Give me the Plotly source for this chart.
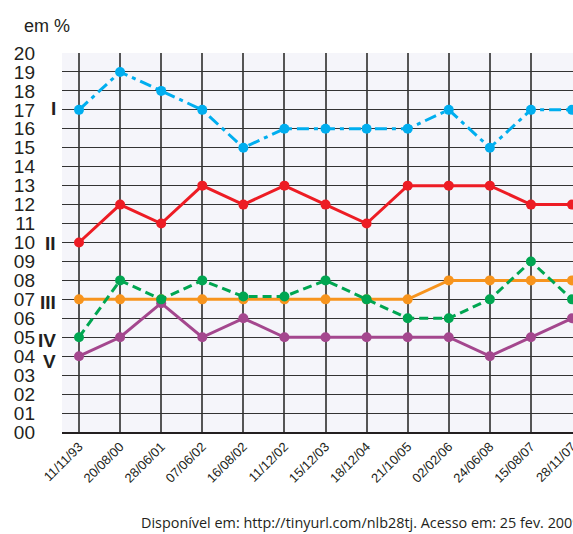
import plotly.graph_objects as go

dates = ["11/11/93", "20/08/00", "28/06/01", "07/06/02", "16/08/02", "11/12/02",
         "15/12/03", "18/12/04", "21/10/05", "02/02/06", "24/06/08", "15/08/07", "28/11/07"]
serie_I = [17, 19, 18, 17, 15, 16, 16, 16, 16, 17, 15, 17, 17]
serie_II = [10, 12, 11, 13, 12, 13, 12, 11, 13, 13, 13, 12, 12]
serie_III = [7, 7, 7, 7, 7, 7, 7, 7, 7, 8, 8, 8, 8]
serie_IV = [5, 8, 7, 8, 7.15, 7.15, 8, 7, 6, 6, 7, 9, 7]
serie_V = [4, 5, 6.8, 5, 6, 5, 5, 5, 5, 5, 4, 5, 6]
y_ticks = list(range(0, 21))
y_labels = [f"{v:02d}" for v in y_ticks]
roman = [("I", 17.05), ("II", 9.95), ("III", 6.85), ("IV", 4.85), ("V", 3.7)]

xs = list(range(len(dates)))
fig = go.Figure()

def add(vals, color, dash):
    fig.add_trace(go.Scatter(
        x=xs, y=vals, mode="lines+markers",
        line=dict(color=color, width=3, dash=dash),
        marker=dict(color=color, size=10),
        showlegend=False, hoverinfo="skip"))

add(serie_III, "#f7941d", "solid")
add(serie_V, "#a4478e", "solid")
add(serie_IV, "#00a651", "9px,5px")
add(serie_II, "#ed1c24", "solid")
add(serie_I, "#00aeef", "12px,5px,4px,5px")

font_family = "Liberation Sans, Arial, sans-serif"

fig.update_layout(
    width=573, height=534,
    margin=dict(l=62, r=0, t=53, b=102, autoexpand=False),
    paper_bgcolor="white", plot_bgcolor="#f5f5fa",
    font=dict(family=font_family, color="#231f20"),
    xaxis=dict(
        range=[-0.414, 12.024], automargin=False,
        tickvals=xs, ticktext=dates, tickangle=-45,
        tickfont=dict(size=13, color="#231f20"),
        ticklabeloverflow="allow",
        showgrid=True, gridcolor="#555555", gridwidth=1.5,
        showline=True, linecolor="#231f20", linewidth=2,
        ticks="", zeroline=False,
    ),
    yaxis=dict(
        range=[0, 20], automargin=False,
        tickvals=y_ticks, ticktext=y_labels,
        tickfont=dict(size=19, color="#231f20"),
        ticklabelstandoff=26,
        showgrid=True, gridcolor="#333333", gridwidth=1.2,
        showline=False, zeroline=False, ticks="",
    ),
)

for txt, yv in roman:
    fig.add_annotation(x=0, xref="paper", y=yv, yref="y", text=f"<b>{txt}</b>",
                       xanchor="right", yanchor="middle", xshift=-4, showarrow=False,
                       font=dict(size=19, color="#231f20", family=font_family))

fig.add_annotation(x=0, xref="paper", y=1, yref="paper", text="em %",
                   xanchor="left", yanchor="bottom", xshift=-40, yshift=15,
                   showarrow=False, font=dict(size=18, color="#231f20", family=font_family))

fig.add_annotation(x=(139 - 62) / 511, xref="paper", y=-90 / 379, yref="paper",
                   text="Disponível em: http://tinyurl.com/nlb28tj. Acesso em: 25 fev. 2009",
                   xanchor="left", yanchor="middle", showarrow=False,
                   font=dict(size=14.4, color="#231f20", family="Open Sans, sans-serif"))

fig.write_html(
    "out.html",
    config={"displayModeBar": False},
    post_script="document.body.style.margin='0';document.body.style.overflow='hidden';",
)
